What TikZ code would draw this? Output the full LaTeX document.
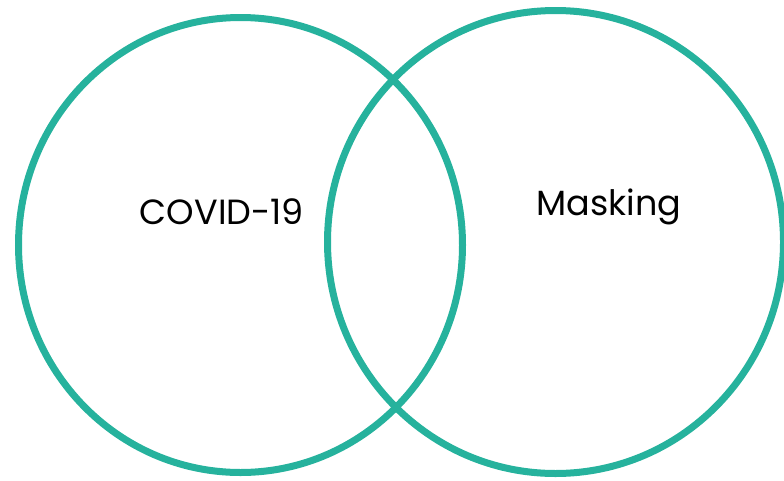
\documentclass[tikz,border=0pt]{standalone}
\usepackage{fontspec}
\setmainfont{Poppins}
\usepackage{xcolor}
\definecolor{vennteal}{RGB}{38,178,157}

\begin{document}
\begin{tikzpicture}[x=1pt,y=-1pt,
    venn/.style={draw=vennteal, line width=7pt},
    label/.style={font=\fontsize{35}{42}\selectfont, inner sep=0pt}]
                \useasboundingbox (0,0) rectangle (784,480);

                %% left set
                \draw[venn] (240.5,245) ellipse (222 and 227.5);
                \node[label] (covid) at (222,212) {COVID-19};

                %% right set
                \draw[venn] (555.5,242) ellipse (228 and 231.5);
                \node[label] (mask) at (609,207) {Masking};

            \end{tikzpicture}
\end{document}
